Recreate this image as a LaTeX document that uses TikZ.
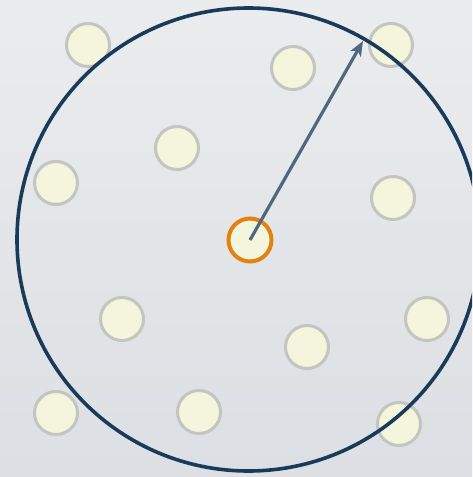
\documentclass[tikz,border=0pt]{standalone}
\usetikzlibrary{arrows.meta}
\definecolor{bgtop}{HTML}{EAECEE}
\definecolor{bgbot}{HTML}{DCDFE3}
\definecolor{ptfill}{HTML}{F3F5DC}
\definecolor{ptline}{HTML}{C4C4C0}
\definecolor{ringc}{HTML}{193B59}
\definecolor{arrowc}{HTML}{4F687D}
\definecolor{queryc}{HTML}{E3820F}
\begin{document}
\begin{tikzpicture}[x=1pt,y=-1pt,
  pt/.style={circle,draw=ptline,fill=ptfill,line width=3pt,minimum size=43pt,inner sep=0pt},
  querypt/.style={circle,draw=queryc,fill=ptfill,line width=4pt,minimum size=43pt,inner sep=0pt},
  rangering/.style={circle,draw=ringc,line width=3.6pt,minimum size=463pt,inner sep=0pt},
  radius arrow/.style={draw=arrowc,line width=3.2pt,-{Stealth[length=15pt,width=12pt,inset=4pt]}}]
\useasboundingbox (0,0) rectangle (472,477);
\clip (0,0) rectangle (472,477);
\shade[top color=bgtop,bottom color=bgbot] (0,0) rectangle (472,477);
\node[pt] (p1) at (88,45) {};
\node[pt] (p2) at (293,68) {};
\node[pt] (p3) at (391,45) {};
\node[pt] (p4) at (177,148) {};
\node[pt] (p5) at (56,183) {};
\node[pt] (p6) at (393,198) {};
\node[pt] (p7) at (122,319) {};
\node[pt] (p8) at (56,413) {};
\node[pt] (p9) at (199,412) {};
\node[pt] (p10) at (307,347) {};
\node[pt] (p11) at (427,319) {};
\node[pt] (p12) at (399,424) {};
\node[querypt] (q) at (250,240) {};
\node[rangering] (ring) at (248.5,239.5) {};
\coordinate (tip) at (363,41);
\draw[radius arrow] (q.center) -- (tip);
\end{tikzpicture}
\end{document}
